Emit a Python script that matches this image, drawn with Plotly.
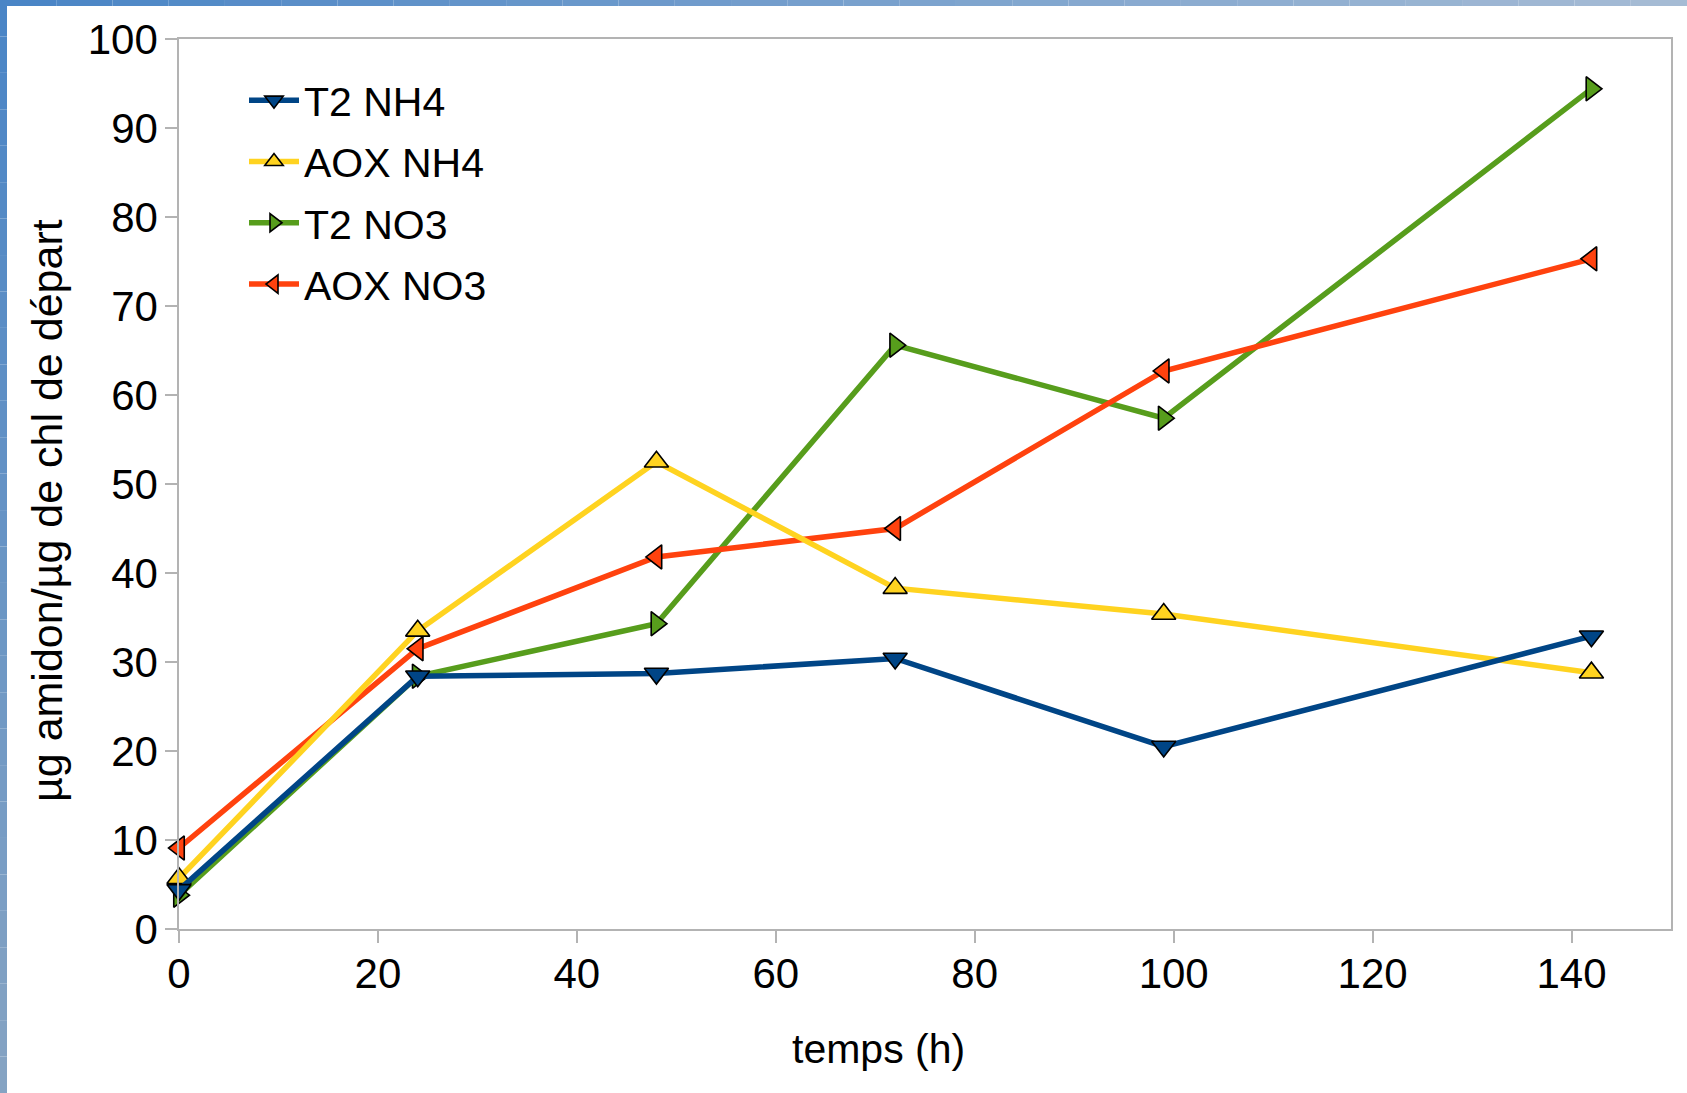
import plotly.graph_objects as go

# ---- data ----
hours = [0, 24, 48, 72, 99, 142]
t2_nh4 = [4.4, 28.4, 28.7, 30.4, 20.5, 32.9]
aox_nh4 = [5.7, 33.5, 52.5, 38.3, 35.4, 28.8]
t2_no3 = [3.8, 28.4, 34.3, 65.6, 57.4, 94.4]
aox_no3 = [9.1, 31.5, 41.8, 45.0, 62.7, 75.3]
series_names = ["T2 NH4", "AOX NH4", "T2 NO3", "AOX NO3"]
x_ticks = [0, 20, 40, 60, 80, 100, 120, 140]
y_ticks = [0, 10, 20, 30, 40, 50, 60, 70, 80, 90, 100]
x_title = "temps (h)"
y_title = "µg amidon/µg de chl de départ"

colors = ["#004586", "#ffd320", "#579d1c", "#ff420e"]
symbols = ["triangle-down", "triangle-up", "triangle-right", "triangle-left"]
values = [t2_nh4, aox_nh4, t2_no3, aox_no3]
draw_order = [2, 3, 1, 0]  # blue drawn on top, as in the reference

W, H = 1687, 1093
L, R, T, B = 179, 16, 39, 164
PW, PH = W - L - R, H - T - B


def px_x(p):
    return (p - L) / PW


def px_y(p):
    return (H - B - p) / PH


FONT = "Liberation Sans, Arial, sans-serif"

fig = go.Figure()
for i in draw_order:
    fig.add_trace(go.Scatter(
        x=hours, y=values[i], name=series_names[i], mode="lines+markers",
        line=dict(color=colors[i], width=5.5),
        marker=dict(symbol=symbols[i], size=21, color=colors[i],
                    line=dict(color="black", width=1.6)),
        cliponaxis=False, legendgroup=series_names[i], legendrank=100 + i,
    ))

axis_common = dict(
    showgrid=False, zeroline=False, showline=True, mirror=True,
    linecolor="#b3b3b3", linewidth=1.5, ticks="outside", ticklen=12,
    tickcolor="#b3b3b3", tickwidth=1.5,
    tickfont=dict(family=FONT, size=42, color="black"),
)

fig.update_layout(
    width=W, height=H,
    margin=dict(l=L, r=R, t=T, b=B),
    paper_bgcolor="white", plot_bgcolor="white",
    xaxis=dict(range=[0, 150], tickvals=x_ticks, ticklabelstandoff=-5, **axis_common),
    yaxis=dict(range=[0, 100], tickvals=y_ticks, ticklabelstandoff=-1, **axis_common),
    showlegend=True,
    legend=dict(
        x=px_x(244), y=px_y(67), xanchor="left", yanchor="top",
        font=dict(family=FONT, size=41, color="black"),
        bgcolor="rgba(0,0,0,0)", itemwidth=50,
        traceorder="grouped", tracegroupgap=5,
    ),
    annotations=[
        dict(text=x_title, xref="paper", yref="paper", x=px_x(878), y=px_y(1049),
             showarrow=False, font=dict(family=FONT, size=41, color="black"),
             xanchor="center", yanchor="middle"),
        dict(text=y_title, xref="paper", yref="paper", x=px_x(47), y=px_y(511),
             showarrow=False, textangle=-90, font=dict(family=FONT, size=43, color="black"),
             xanchor="center", yanchor="middle"),
    ],
)


def lerp(c1, c2, t):
    return "rgb(%d,%d,%d)" % tuple(round(a + (b - a) * t) for a, b in zip(c1, c2))


shapes = []
N = 30
# left band gradient (top -> bottom)
for k in range(N):
    y0 = H * k / N
    y1 = H * (k + 1) / N
    shapes.append(dict(type="rect", xref="paper", yref="paper", layer="above",
                       x0=px_x(0), x1=px_x(7), y0=px_y(y1), y1=px_y(y0),
                       line=dict(width=0),
                       fillcolor=lerp((74, 133, 198), (133, 163, 195), k / (N - 1))))
# top band gradient (left -> right)
for k in range(N):
    x0 = W * k / N
    x1 = W * (k + 1) / N
    shapes.append(dict(type="rect", xref="paper", yref="paper", layer="above",
                       x0=px_x(x0), x1=px_x(x1), y0=px_y(6), y1=px_y(0),
                       line=dict(width=0),
                       fillcolor=lerp((74, 133, 198), (165, 187, 212), k / (N - 1))))
fig.update_layout(shapes=shapes)

fig.write_html("out.html")
